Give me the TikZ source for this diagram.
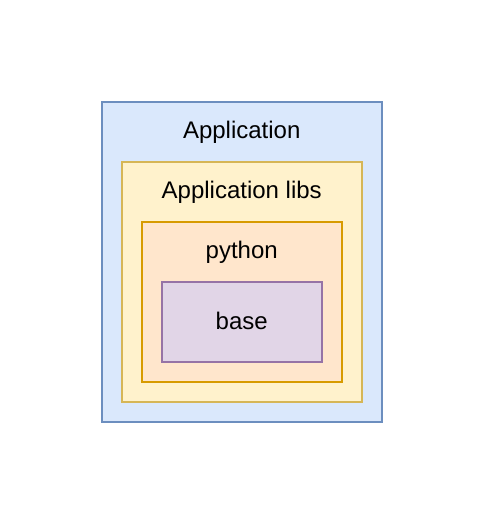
\documentclass[tikz,border=0pt]{standalone}
\usepackage{fontspec}
\setmainfont{Liberation Sans}
\usetikzlibrary{positioning}

\definecolor{blueFill}{HTML}{DAE8FC}
\definecolor{blueLine}{HTML}{6C8EBF}
\definecolor{yellowFill}{HTML}{FFF2CC}
\definecolor{yellowLine}{HTML}{D6B656}
\definecolor{orangeFill}{HTML}{FFE6CC}
\definecolor{orangeLine}{HTML}{D79B00}
\definecolor{purpleFill}{HTML}{E1D5E7}
\definecolor{purpleLine}{HTML}{9673A6}

\tikzset{
  layer/.style={draw, line width=1.5pt, anchor=north west, inner sep=0pt},
  lbl/.style={anchor=base, inner sep=0pt, font=\fontsize{24}{28}\selectfont}
}

\begin{document}
\begin{tikzpicture}[x=1pt,y=-1pt]
    \useasboundingbox (0,0) rectangle (482,522);
    \node[layer, fill=blueFill, draw=blueLine, minimum width=280pt, minimum height=320pt] (app) at (101,101) {};
    \node[layer, fill=yellowFill, draw=yellowLine, minimum width=240pt, minimum height=240pt] (libs) at (121,161) {};
    \node[layer, fill=orangeFill, draw=orangeLine, minimum width=200pt, minimum height=160pt] (py) at (141,221) {};
    \node[layer, fill=purpleFill, draw=purpleLine, minimum width=160pt, minimum height=80pt] (base) at (161,281) {};
    % labels
    \node[lbl] (appT) at ([yshift=-37.5pt]app.north) {Application};
    \node[lbl] (libsT) at ([yshift=-37pt]libs.north) {Application libs};
    \node[lbl] (pyT) at ([yshift=-37pt]py.north) {python};
    \node[lbl] (baseT) at ([yshift=-7.5pt]base.center) {base};
\end{tikzpicture}
\end{document}
